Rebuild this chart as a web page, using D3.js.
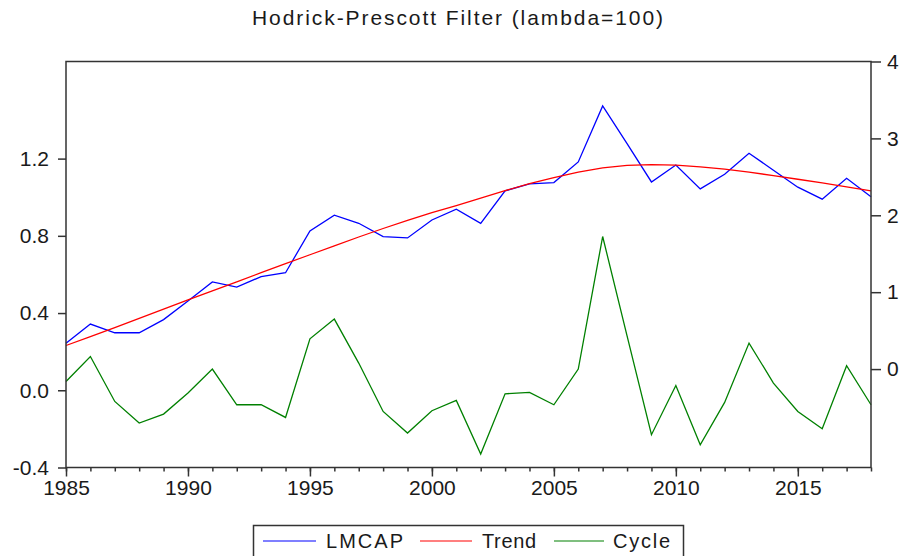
<!DOCTYPE html>
<html>
<head>
<meta charset="utf-8">
<script src="https://cdn.jsdelivr.net/npm/d3@7"></script>
<style>
  html, body { margin: 0; padding: 0; background: #fff; }
  svg { display: block; font-family: "Liberation Sans", Arial, sans-serif; }
</style>
</head>
<body>
<svg id="chart" width="902" height="556"></svg>
<script>
const years = d3.range(1985, 2019);
const lmcap = [0.243, 0.343, 0.298, 0.298, 0.366, 0.462, 0.561, 0.534, 0.589, 0.609,
  0.825, 0.907, 0.865, 0.796, 0.789, 0.882, 0.938, 0.865, 1.033, 1.069,
  1.076, 1.183, 1.473, 1.278, 1.079, 1.167, 1.043, 1.119, 1.228, 1.140,
  1.052, 0.990, 1.098, 1.002];
const trend = [0.232, 0.278, 0.325, 0.372, 0.420, 0.468, 0.515, 0.562, 0.609, 0.656,
  0.702, 0.748, 0.794, 0.838, 0.880, 0.920, 0.957, 0.995, 1.034, 1.070,
  1.102, 1.130, 1.152, 1.165, 1.169, 1.166, 1.157, 1.145, 1.130, 1.112,
  1.093, 1.074, 1.054, 1.033];
const cycle = [-0.161, 0.164, -0.421, -0.702, -0.585, -0.312, 0.000, -0.464, -0.464, -0.629,
  0.394, 0.650, 0.078, -0.551, -0.832, -0.542, -0.408, -1.105, -0.321, -0.304,
  -0.464, 0.000, 1.724, 0.433, -0.854, -0.213, -0.984, -0.434, 0.338, -0.182,
  -0.551, -0.776, 0.043, -0.464];
const leftTicks = [-0.4, 0.0, 0.4, 0.8, 1.2];
const rightTicks = [0, 1, 2, 3, 4];
const yearLabels = [1985, 1990, 1995, 2000, 2005, 2010, 2015];
const seriesNames = ["LMCAP", "Trend", "Cycle"];
const seriesColors = ["#0000ff", "#ff0000", "#008000"];
const titleText = "Hodrick-Prescott Filter (lambda=100)";

const svg = d3.select("#chart");
const L = 66, R = 871, T = 61.5, B = 467.5;
const x = d3.scaleLinear().domain([1985, 2018]).range([L, R]);
const yL = d3.scaleLinear().domain([-0.4, 1.703]).range([B, T]);
const yR = d3.scaleLinear().domain([-1.28, 4]).range([B, T]);
const axisColor = "#333";
const textColor = "#1a1a1a";

// title
svg.append("text").attr("x", 457.5).attr("y", 24.5).attr("text-anchor", "middle")
  .attr("font-size", 21).attr("fill", textColor)
  .attr("textLength", 411).attr("lengthAdjust", "spacing").text(titleText);

// lines
const mk = (ys) => d3.line().x((d, i) => x(years[i])).y(d => ys(d));
const series = [
  {vals: lmcap, scale: yL, color: seriesColors[0]},
  {vals: trend, scale: yL, color: seriesColors[1]},
  {vals: cycle, scale: yR, color: seriesColors[2]}
];
series.forEach(s => {
  svg.append("path").datum(s.vals).attr("d", mk(s.scale))
    .attr("fill", "none").attr("stroke", s.color).attr("stroke-width", 1.3)
    .attr("stroke-linejoin", "miter");
});

// frame
svg.append("rect").attr("x", L).attr("y", T).attr("width", R - L).attr("height", B - T)
  .attr("fill", "none").attr("stroke", axisColor).attr("stroke-width", 1.5);

// left axis
const gl = svg.append("g").attr("transform", `translate(${L},0)`)
  .call(d3.axisLeft(yL).tickValues(leftTicks).tickFormat(d => d.toFixed(1)).tickSize(8).tickPadding(9));
// right axis
const gr = svg.append("g").attr("transform", `translate(${R},0)`)
  .call(d3.axisRight(yR).tickValues(rightTicks).tickFormat(d => String(d)).tickSize(10).tickPadding(6));
// bottom axis: minor and major
const gbm = svg.append("g").attr("transform", `translate(0,${B})`)
  .call(d3.axisBottom(x).tickValues(years).tickFormat("").tickSize(4));
const gb = svg.append("g").attr("transform", `translate(0,${B})`)
  .call(d3.axisBottom(x).tickValues(yearLabels).tickFormat(d => String(d)).tickSize(9).tickPadding(4));

[gl, gr, gbm, gb].forEach(g => {
  g.select(".domain").remove();
  g.selectAll(".tick line").attr("stroke", axisColor).attr("stroke-width", 1.5);
  g.selectAll(".tick text").attr("font-size", 21).attr("fill", textColor)
    .attr("font-family", "'Liberation Sans', Arial, sans-serif");
});

// legend
const lg = svg.append("g");
lg.append("rect").attr("x", 253.5).attr("y", 525.5).attr("width", 430).attr("height", 32)
  .attr("fill", "#fff").attr("stroke", axisColor).attr("stroke-width", 1.5);
const legItems = [
  {x1: 263, x2: 316, tx: 326, tw: 77},
  {x1: 420, x2: 472, tx: 482, tw: 54},
  {x1: 554, x2: 604, tx: 613, tw: 57}
];
legItems.forEach((it, i) => {
  lg.append("line").attr("x1", it.x1).attr("x2", it.x2).attr("y1", 541).attr("y2", 541)
    .attr("stroke", seriesColors[i]).attr("stroke-width", 1.2);
  lg.append("text").attr("x", it.tx).attr("y", 548).attr("font-size", 20).attr("fill", textColor)
    .attr("textLength", it.tw).attr("lengthAdjust", "spacing").text(seriesNames[i]);
});
</script>
</body>
</html>
